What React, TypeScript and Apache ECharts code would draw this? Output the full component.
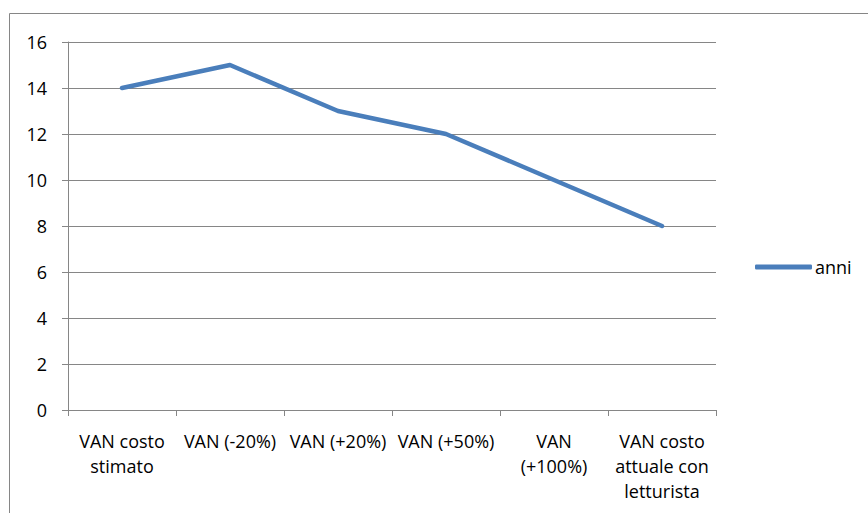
import React, { useEffect, useRef } from "react";
import * as echarts from "echarts";

const categories = [
  "VAN costo\nstimato",
  "VAN (-20%)",
  "VAN (+20%)",
  "VAN (+50%)",
  "VAN\n(+100%)",
  "VAN costo\nattuale con\nletturista",
];
const anni = [14, 15, 13, 12, 10, 8];
const seriesName = "anni";

const FONT = "'Open Sans', 'Liberation Sans', sans-serif";
const GRAY = "#868686";
const FS = 18;

export default function App() {
  const ref = useRef<HTMLDivElement>(null);
  useEffect(() => {
    document.body.style.margin = "0";
    const chart = echarts.init(ref.current!, null, { renderer: "svg" });
    chart.setOption({
      animation: false,
      backgroundColor: "#ffffff",
      textStyle: { fontFamily: FONT },
      graphic: [
        {
          type: "rect",
          shape: { x: 9.5, y: 13.5, width: 880, height: 540 },
          style: { fill: "none", stroke: GRAY, lineWidth: 1 },
          silent: true,
        },
      ],
      grid: { left: 68, right: 152, top: 42, bottom: 103 },
      legend: {
        left: 750,
        top: 253,
        icon: "roundRect",
        itemWidth: 57,
        itemHeight: 5,
        itemGap: 0,
        textStyle: { fontFamily: FONT, fontSize: FS, color: "#000", padding: [0, 0, 0, -2] },
        data: [seriesName],
      },
      xAxis: {
        type: "category",
        data: categories,
        boundaryGap: true,
        axisLine: { lineStyle: { color: GRAY, width: 1 } },
        axisTick: { show: true, length: 6, lineStyle: { color: GRAY } },
        axisLabel: {
          interval: 0,
          margin: 18,
          fontFamily: FONT,
          fontSize: FS,
          color: "#000",
          lineHeight: 25,
          align: "center",
          verticalAlign: "top",
        },
      },
      yAxis: {
        type: "value",
        min: 0,
        max: 16,
        interval: 2,
        axisLine: { show: true, lineStyle: { color: GRAY, width: 1 } },
        axisTick: { show: true, length: 6, lineStyle: { color: GRAY } },
        axisLabel: { margin: 21, fontFamily: FONT, fontSize: FS, color: "#000" },
        splitLine: { show: true, lineStyle: { color: GRAY, width: 1 } },
      },
      series: [
        {
          name: seriesName,
          type: "line",
          data: anni,
          symbol: "none",
          lineStyle: { color: "#4A7EBB", width: 4.5, cap: "round", join: "round" },
          itemStyle: { color: "#4A7EBB" },
        },
      ],
    });
    return () => chart.dispose();
  }, []);
  return <div ref={ref} style={{ width: 868, height: 513 }} />;
}
